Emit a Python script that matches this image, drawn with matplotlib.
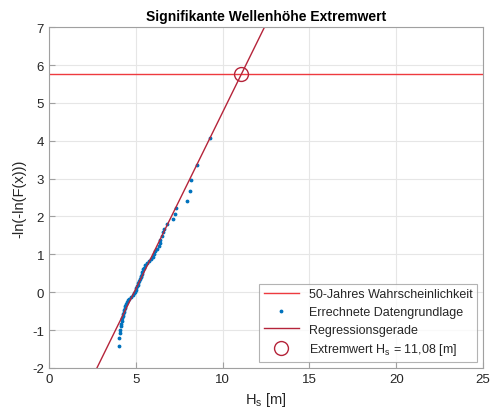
import numpy as np
import matplotlib
matplotlib.use('Agg')
import matplotlib.pyplot as plt

plt.rcParams['font.family'] = ['Liberation Sans', 'DejaVu Sans']
plt.rcParams['axes.unicode_minus'] = False

# sorted significant wave heights [m] and plotting positions -ln(-ln(F))
hs_data = [4.02, 4.04, 4.07, 4.10, 4.12, 4.16, 4.19, 4.22, 4.25, 4.28,
           4.31, 4.33, 4.37, 4.40, 4.45, 4.50, 4.56, 4.63, 4.72, 4.82,
           4.90, 4.96, 5.00, 5.03, 5.07, 5.11, 5.15, 5.19, 5.23, 5.27,
           5.30, 5.34, 5.38, 5.43, 5.48, 5.55, 5.65, 5.78, 5.90, 5.98,
           6.02, 6.08, 6.22, 6.33, 6.37, 6.42, 6.48, 6.55, 6.65, 6.82,
           7.15, 7.24, 7.30, 7.97, 8.10, 8.18, 8.54, 9.27]
y_data = [-1.41, -1.22, -1.09, -0.99, -0.90, -0.83, -0.76, -0.69, -0.63, -0.57,
          -0.52, -0.47, -0.41, -0.36, -0.31, -0.27, -0.22, -0.17, -0.13, -0.08,
          -0.03, 0.01, 0.06, 0.11, 0.15, 0.20, 0.25, 0.29, 0.34, 0.39,
          0.44, 0.49, 0.54, 0.60, 0.65, 0.71, 0.76, 0.82, 0.88, 0.94,
          1.01, 1.08, 1.15, 1.23, 1.31, 1.39, 1.48, 1.58, 1.68, 1.80,
          1.93, 2.07, 2.23, 2.42, 2.66, 2.95, 3.37, 4.07]

# regression line y = a*x + b
reg_slope = 0.933
reg_icpt = -4.577
y50 = 5.76          # 50-year level
hs_extreme = 11.08

xlim = (0, 25)
ylim = (-2, 7)

fig = plt.figure(figsize=(4.9, 4.14), dpi=100)
ax = fig.add_axes([0.1, 0.109, 0.886, 0.823])

red_light = '#ee3a3f'
red_dark = '#b5243a'
blue = '#0072BD'

ax.plot(xlim, [y50, y50], color=red_light, lw=1.0, label='50-Jahres Wahrscheinlichkeit')
ax.plot(hs_data, y_data, '.', color=blue, ms=3.5, label='Errechnete Datengrundlage')
xr = np.array([0, 25])
ax.plot(xr, reg_slope * xr + reg_icpt, color=red_dark, lw=1.0, label='Regressionsgerade')
ax.plot([hs_extreme], [y50], 'o', mfc='none', mec=red_dark, ms=10, mew=1.0,
        label='Extremwert H$_\\mathregular{s}$ = 11,08 [m]')

ax.set_xlim(*xlim)
ax.set_ylim(*ylim)
ax.set_xticks(range(0, 26, 5))
ax.set_yticks(range(-2, 8))

ax.grid(True, color='#e6e6e6', lw=0.8)
ax.set_axisbelow(True)
for s in ax.spines.values():
    s.set_color('#a0a0a0')
    s.set_linewidth(0.8)
ax.tick_params(direction='in', length=4, color='#a0a0a0', labelsize=9.5,
               labelcolor='#262626', top=False, right=False)

ax.set_title('Signifikante Wellenhöhe Extremwert', fontsize=10, fontweight='bold', pad=5)
ax.set_xlabel('H$_\\mathregular{s}$ [m]', fontsize=10.5, color='#262626')
ax.set_ylabel('-ln(-ln(F(x)))', fontsize=10.5, color='#262626')

leg = ax.legend(loc='lower right', fontsize=9, frameon=True, fancybox=False,
                edgecolor='#a0a0a0', borderpad=0.35, labelspacing=0.45,
                handlelength=2.8, borderaxespad=0.5)
leg.get_frame().set_linewidth(0.8)
for t in leg.get_texts():
    t.set_color('#262626')

fig.savefig('out.png', dpi=100)
